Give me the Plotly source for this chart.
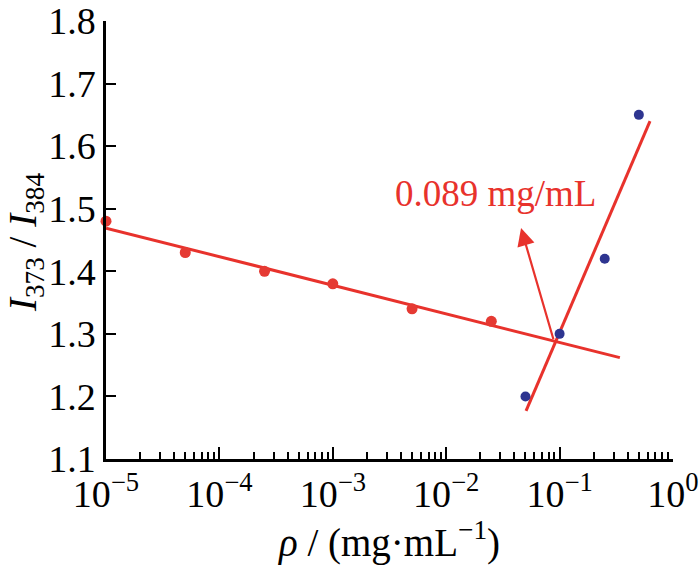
import math
import plotly.graph_objects as go

# ---- data ----
red_x = [1e-5, 5e-5, 2.5e-4, 1e-3, 5e-3, 2.5e-2]
red_y = [1.48, 1.43, 1.40, 1.38, 1.34, 1.32]
blue_x = [0.05, 0.1, 0.25, 0.5]
blue_y = [1.20, 1.30, 1.42, 1.65]
fit1_x = [1e-5, 0.34]
fit1_y = [1.469, 1.262]
fit2_x = [0.0506, 0.627]
fit2_y = [1.177, 1.640]
cmc_x = 0.089
cmc_y = 1.289
arrow_tip_x = 0.0457
arrow_tip_y = 1.469
label_x = 0.027
label_y = 1.524
label_text = "0.089 mg/mL"
xtick_vals = [1e-5, 1e-4, 1e-3, 1e-2, 1e-1, 1e0]
xtick_text = ["10<sup>−5</sup>", "10<sup>−4</sup>", "10<sup>−3</sup>",
              "10<sup>−2</sup>", "10<sup>−1</sup>", "10<sup>0</sup>"]
ytick_vals = [1.1, 1.2, 1.3, 1.4, 1.5, 1.6, 1.7, 1.8]
ytick_text = ["1.1", "1.2", "1.3", "1.4", "1.5", "1.6", "1.7", "1.8"]
minor_vals = [m * 10 ** e for e in range(-5, 0) for m in range(2, 10)]

RED = "#e8322c"
RED_PT = "#e53a33"
BLUE = "#2e3590"
FONT = "Liberation Serif"

fig = go.Figure()
fig.add_trace(go.Scatter(x=fit1_x, y=fit1_y, mode="lines",
                         line=dict(color=RED, width=3), showlegend=False, cliponaxis=False))
fig.add_trace(go.Scatter(x=fit2_x, y=fit2_y, mode="lines",
                         line=dict(color=RED, width=3), showlegend=False, cliponaxis=False))
fig.add_trace(go.Scatter(x=red_x, y=red_y, mode="markers",
                         marker=dict(color=RED_PT, size=11), showlegend=False, cliponaxis=False))
fig.add_trace(go.Scatter(x=blue_x, y=blue_y, mode="markers",
                         marker=dict(color=BLUE, size=10), showlegend=False, cliponaxis=False))

fig.add_annotation(x=math.log10(arrow_tip_x), y=arrow_tip_y,
                   ax=math.log10(cmc_x), ay=cmc_y, xref="x", yref="y",
                   axref="x", ayref="y", text="", showarrow=True,
                   arrowhead=2, arrowsize=1.6, arrowwidth=2.2, arrowcolor=RED)
fig.add_annotation(x=math.log10(label_x), y=label_y, xref="x", yref="y",
                   text=label_text, showarrow=False,
                   font=dict(family=FONT, size=37, color=RED))
fig.add_annotation(x=-0.143, y=0.495, xref="paper", yref="paper",
                   xanchor="center", yanchor="middle",
                   text="<i>I</i><sub>373</sub> / <i>I</i><sub>384</sub>",
                   textangle=-90, showarrow=False,
                   font=dict(family=FONT, size=39, color="black"))

fig.update_layout(
    width=700, height=569,
    margin=dict(l=106, r=27, t=21, b=110),
    paper_bgcolor="white", plot_bgcolor="white",
    font=dict(family=FONT, size=36, color="black"),
    xaxis=dict(type="log", range=[-5, 0], showgrid=False, zeroline=False,
               automargin=False, ticklabeloverflow="allow",
               showline=True, linecolor="black", linewidth=2.5,
               ticks="inside", ticklen=12, tickwidth=2, tickcolor="black",
               tickmode="array", tickvals=xtick_vals, ticktext=xtick_text,
               tickfont=dict(family=FONT, size=38),
               minor=dict(tickmode="array", tickvals=minor_vals, ticks="inside",
                          ticklen=7, tickwidth=2, tickcolor="black", showgrid=False),
               title=dict(text="<i>ρ</i> / (mg·mL<sup>−1</sup>)",
                          font=dict(family=FONT, size=39), standoff=8)),
    yaxis=dict(range=[1.1, 1.8], showgrid=False, zeroline=False,
               automargin=False, ticklabeloverflow="allow",
               showline=True, linecolor="black", linewidth=2.5,
               ticks="inside", ticklen=10, tickwidth=2, tickcolor="black",
               tickmode="array", tickvals=ytick_vals, ticktext=ytick_text,
               tickfont=dict(family=FONT, size=38)),
)

fig.write_html("out.html", config={"displayModeBar": False},
               post_script="document.body.style.margin='0';document.body.style.overflow='hidden';")
